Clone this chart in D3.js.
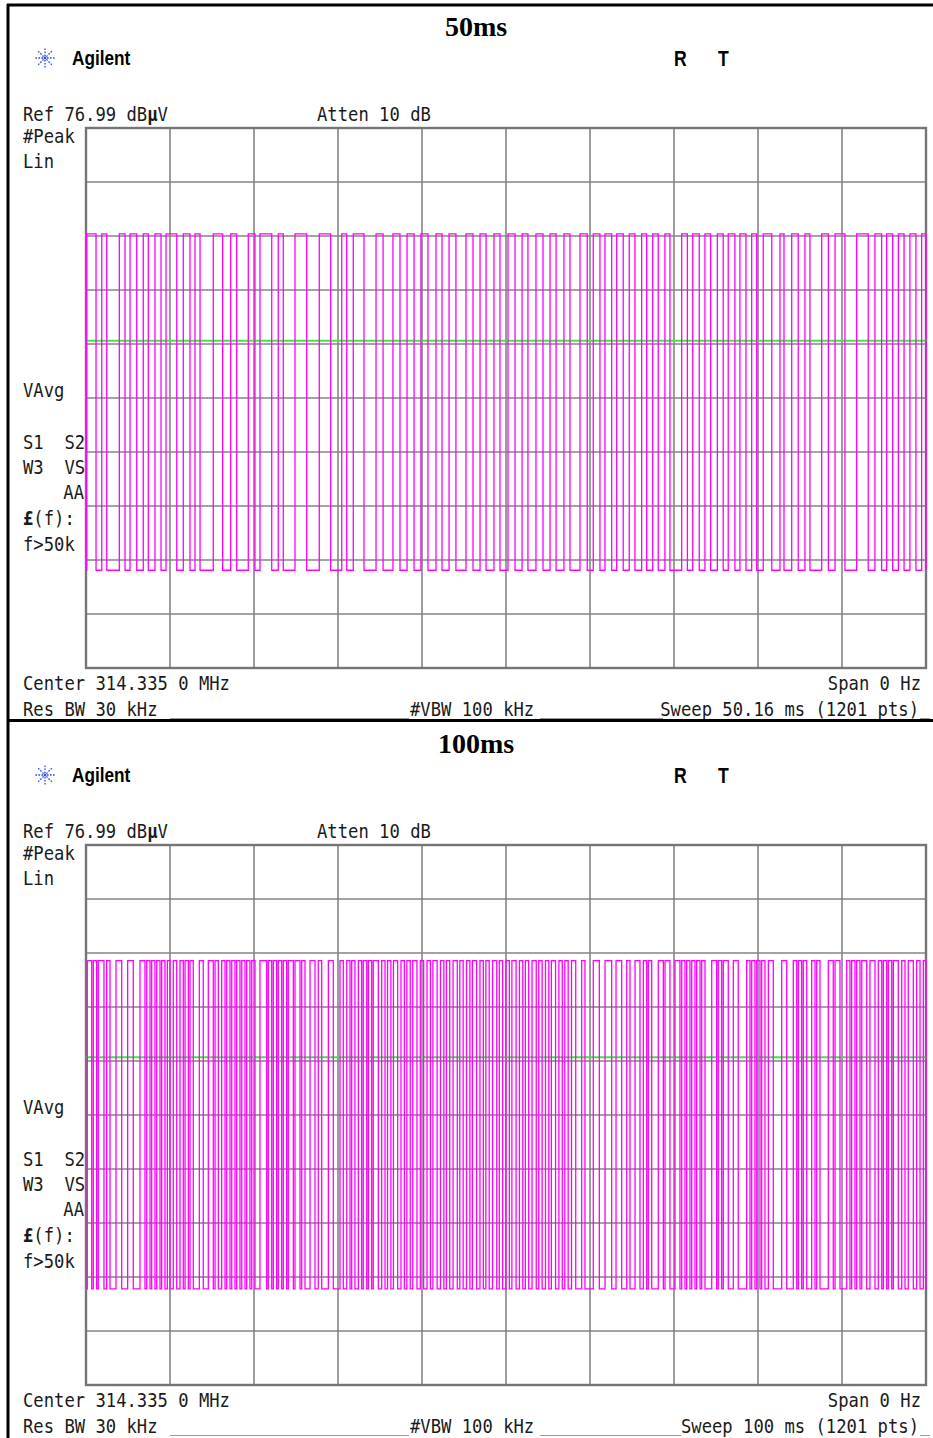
<!DOCTYPE html>
<html>
<head>
<meta charset="utf-8">
<script src="https://cdn.jsdelivr.net/npm/d3@7"></script>
<style>
  body { margin: 0; background: #fff; }
  svg { display: block; }
</style>
</head>
<body>
<div id="chart"></div>
<script>
const width = 933;
const height = 1438;

/* ----------------------- data ----------------------- */
const titles = ["50ms", "100ms"];
const sweepMs = [50.16, 100];
const sweepLabels = ["Sweep 50.16 ms (1201 pts)", "Sweep 100 ms (1201 pts)"];
// levels in screen divisions (0 = bottom, 10 = ref)
const highLevel = [8.04, 7.86];
const lowLevel = [1.81, 1.78];
const displayLine = [6.06, 6.07];

// time intervals (ms) where the carrier is on
const highs50 = [
  [0.04,0.60],[0.94,1.24],[1.99,2.33],[2.63,3.03],[3.42,3.72],[4.12,4.48],[4.78,5.42],
  [5.81,6.21],[6.51,6.81],[7.60,8.16],[8.64,9.00],[9.69,10.09],[10.39,11.09],[11.48,11.78],
  [12.48,13.18],[13.93,14.61],[15.27,15.57],[15.96,16.60],[17.32,17.74],[18.33,18.75],
  [19.17,19.59],[20.00,20.42],[20.90,21.26],[21.68,22.09],[22.69,23.11],[23.53,23.89],
  [24.36,24.72],[25.20,25.62],[26.04,26.39],[26.87,27.29],[27.71,28.07],[28.54,28.90],
  [29.50,29.93],[30.29,30.69],[30.99,31.39],[31.69,32.08],[32.44,32.78],[33.18,33.48],
  [33.84,34.17],[34.57,34.87],[35.57,35.91],[36.23,36.62],[36.96,37.30],[37.70,38.05],
  [38.35,38.75],[39.05,39.41],[39.75,40.05],[40.44,40.95],[41.44,41.68],[42.14,42.53],
  [42.93,43.23],[43.93,44.33],[44.73,45.32],[46.02,46.71],[47.11,47.51],[47.81,48.17],
  [48.51,48.85],[49.20,49.56],[49.90,50.16]
];
const highs100 = [
  [0.15,0.68],[0.87,1.27],[1.46,2.14],[2.46,2.86],[3.57,4.25],[4.96,5.63],[6.43,7.02],
  [7.23,7.62],[7.82,8.21],[8.42,8.81],[9.01,9.40],[9.68,10.00],[10.39,10.80],[11.19,11.58],
  [11.79,12.18],[12.38,12.77],[13.49,13.96],[14.56,15.15],[15.36,15.75],[16.15,16.55],
  [16.75,17.14],[17.35,17.74],[17.94,18.33],[18.54,18.93],[19.13,19.52],[19.73,20.12],
  [20.71,21.51],[21.70,22.11],[22.30,22.70],[22.89,23.30],[23.49,23.89],[24.08,24.68],
  [24.88,25.48],[25.68,26.07],[26.67,27.26],[27.65,28.06],[28.85,29.44],[30.24,30.63],
  [31.04,31.43],[31.63,32.02],[32.42,32.82],[33.01,33.42],[33.61,34.01],[34.20,34.80],
  [35.2,35.6],[35.9,36.3],[36.6,37.1],[37.5,37.9],[38.2,38.6],[38.9,39.4],[39.8,40.2],
  [40.6,41.0],[41.3,41.8],[42.2,42.6],[42.9,43.3],[43.7,44.2],[44.5,44.9],[45.3,45.7],
  [46.0,46.5],[46.9,47.3],[47.6,48.0],[48.4,48.9],[49.2,49.6],[50.0,50.4],[50.7,51.2],
  [51.6,52.0],[52.3,52.7],[53.1,53.6],[53.9,54.3],[54.7,55.1],[55.4,55.9],[56.3,56.7],
  [57.0,57.4],[57.8,58.3],[59.01,59.40],[60.39,61.11],[61.79,62.58],[63.10,63.77],
  [64.37,64.76],[65.36,65.95],[66.35,66.75],[66.94,67.35],[68.13,68.73],[68.93,69.52],
  [70.12,70.71],[70.92,71.31],[71.51,71.90],[72.11,72.50],[72.70,73.10],[73.30,73.69],
  [74.49,75.08],[75.27,75.68],[75.87,76.46],[77.06,77.65],[78.65,79.05],[79.25,79.64],
  [79.85,80.24],[80.44,80.83],[81.23,81.82],[82.82,83.42],[84.20,84.61],[84.80,85.20],
  [85.39,85.80],[86.39,86.79],[86.99,87.38],[88.37,88.96],[89.17,89.76],[90.56,90.95],
  [91.15,91.55],[91.75,92.14],[92.35,92.94],[93.33,93.93],[94.32,94.73],[94.92,95.32],
  [95.51,95.92],[96.11,96.70],[97.11,97.50],[97.89,98.49],[98.89,99.29],[99.68,100]
];
const traces = [highs50, highs100];

/* ----------------------- layout ----------------------- */
const panelTop = [0, 717];
const gridLeft = 86, gridRight = 926, gridTop = 128, gridBottom = 668;
const squeeze = 0.86; // instrument font is narrower than DejaVu Mono
const monoFont = "'DejaVu Sans Mono', 'Liberation Mono', monospace";

const svg = d3.select("#chart")
  .append("svg")
    .attr("width", width)
    .attr("height", height);

svg.append("rect")
  .attr("width", width)
  .attr("height", height)
  .attr("fill", "#fff");

// write instrument style text, squeezed horizontally
function monoText(g, x, y, parts, anchor) {
  const t = g.append("text")
    .attr("transform", `translate(${x},${y}) scale(${squeeze},1)`)
    .attr("font-family", monoFont)
    .attr("font-size", 20)
    .attr("fill", "#1a1a1a")
    .attr("text-anchor", anchor || "start")
    .attr("xml:space", "preserve")
    .style("white-space", "pre");
  parts.forEach(p => {
    t.append("tspan")
      .attr("font-weight", p.b ? "bold" : "normal")
      .text(p.t);
  });
  return t;
}

function drawPanel(i) {
  const g = svg.append("g")
    .attr("transform", `translate(0, ${panelTop[i]})`);

  const x = d3.scaleLinear().domain([0, sweepMs[i]]).range([gridLeft, gridRight]);
  const y = d3.scaleLinear().domain([0, 10]).range([gridBottom, gridTop]);

  // title
  g.append("text")
    .attr("x", 476)
    .attr("y", 36)
    .attr("text-anchor", "middle")
    .attr("font-family", "'Liberation Serif', 'Times New Roman', serif")
    .attr("font-weight", "bold")
    .attr("font-size", 28)
    .text(titles[i]);

  // agilent logo
  const logo = g.append("g").attr("transform", "translate(45, 58)");
  d3.range(8).forEach(k => {
    const a = k * Math.PI / 4;
    logo.append("line")
      .attr("x1", 2 * Math.cos(a)).attr("y1", 2 * Math.sin(a))
      .attr("x2", 10 * Math.cos(a)).attr("y2", 10 * Math.sin(a))
      .attr("stroke", "#2a48e8")
      .attr("stroke-width", 1.3)
      .attr("stroke-dasharray", "1.6,1.4");
  });
  logo.append("circle").attr("r", 1.4).attr("fill", "#2a48e8");

  g.append("text")
    .attr("transform", "translate(72,65) scale(0.82,1)")
    .attr("font-family", "'Liberation Sans', Arial, sans-serif")
    .attr("font-weight", "bold")
    .attr("font-size", 21)
    .text("Agilent");

  ["R", "T"].forEach((s, k) => {
    g.append("text")
      .attr("transform", `translate(${674 + k * 44},66) scale(0.8,1)`)
      .attr("font-family", "'Liberation Sans', Arial, sans-serif")
      .attr("font-weight", "bold")
      .attr("font-size", 22)
      .text(s);
  });

  // side + header annotations
  monoText(g, 23, 121, [{t: "Ref 76.99 dB"}, {t: "μ", b: true}, {t: "V"}]);
  monoText(g, 317, 121, [{t: "Atten 10 dB"}]);
  monoText(g, 23, 143, [{t: "#Peak"}]);
  monoText(g, 23, 168, [{t: "Lin"}]);
  monoText(g, 23, 397, [{t: "VAvg"}]);
  monoText(g, 23, 449, [{t: "S1  S2"}]);
  monoText(g, 23, 474, [{t: "W3  VS"}]);
  monoText(g, 84, 499, [{t: "AA"}], "end");
  monoText(g, 23, 525, [{t: "£", b: true}, {t: "(f):"}]);
  monoText(g, 23, 551, [{t: "f>50k"}]);

  // footer underline (drawn in the gaps between labels)
  [[170, 409], [540, i === 0 ? 663 : 681], [920, 930]].forEach(s => {
    g.append("line")
      .attr("x1", s[0]).attr("x2", s[1])
      .attr("y1", 718.5).attr("y2", 718.5)
      .attr("stroke", "#9a9a9a")
      .attr("stroke-width", 1);
  });
  monoText(g, 23, 690, [{t: "Center 314.335 0 MHz"}]);
  monoText(g, 921, 690, [{t: "Span 0 Hz"}], "end");
  monoText(g, 23, 716, [{t: "Res BW 30 kHz"}]);
  monoText(g, 410, 716, [{t: "#VBW 100 kHz"}]);
  monoText(g, 919, 716, [{t: sweepLabels[i]}], "end");

  // graticule
  const grid = g.append("g");
  grid.selectAll(".vline")
    .data(d3.range(1, 10))
    .join("line")
      .attr("class", "vline")
      .attr("x1", d => x(d * sweepMs[i] / 10))
      .attr("x2", d => x(d * sweepMs[i] / 10))
      .attr("y1", gridTop).attr("y2", gridBottom)
      .attr("stroke", "#858585")
      .attr("stroke-width", 1.6);
  grid.selectAll(".hline")
    .data(d3.range(1, 10))
    .join("line")
      .attr("class", "hline")
      .attr("x1", gridLeft).attr("x2", gridRight)
      .attr("y1", d => y(d)).attr("y2", d => y(d))
      .attr("stroke", "#858585")
      .attr("stroke-width", 1.6);
  grid.append("rect")
    .attr("x", gridLeft).attr("y", gridTop)
    .attr("width", gridRight - gridLeft)
    .attr("height", gridBottom - gridTop)
    .attr("fill", "none")
    .attr("stroke", "#757575")
    .attr("stroke-width", 2.4);

  // display line
  g.append("line")
    .attr("x1", gridLeft).attr("x2", gridRight)
    .attr("y1", y(displayLine[i])).attr("y2", y(displayLine[i]))
    .attr("stroke", "#3ee83e")
    .attr("stroke-width", 2);

  // trace: square wave from the on-intervals
  const pts = [[0, lowLevel[i]]];
  traces[i].forEach(d => {
    pts.push([d[0], highLevel[i]]);
    pts.push([d[1], lowLevel[i]]);
  });
  pts.push([sweepMs[i], pts[pts.length - 1][1]]);

  const line = d3.line()
    .x(d => x(d[0]))
    .y(d => y(d[1]))
    .curve(d3.curveStepAfter);

  g.append("path")
    .datum(pts)
    .attr("d", line)
    .attr("fill", "none")
    .attr("stroke", "#ff00ff")
    .attr("stroke-width", 1.3);
}

drawPanel(0);
drawPanel(1);

// outer table borders
svg.append("line")
  .attr("x1", 8).attr("x2", 8).attr("y1", 4).attr("y2", height)
  .attr("stroke", "#000").attr("stroke-width", 3);
svg.append("line")
  .attr("x1", 7).attr("x2", width).attr("y1", 5).attr("y2", 5)
  .attr("stroke", "#000").attr("stroke-width", 3);
svg.append("line")
  .attr("x1", 7).attr("x2", width).attr("y1", 720.5).attr("y2", 720.5)
  .attr("stroke", "#000").attr("stroke-width", 3);
</script>
</body>
</html>
